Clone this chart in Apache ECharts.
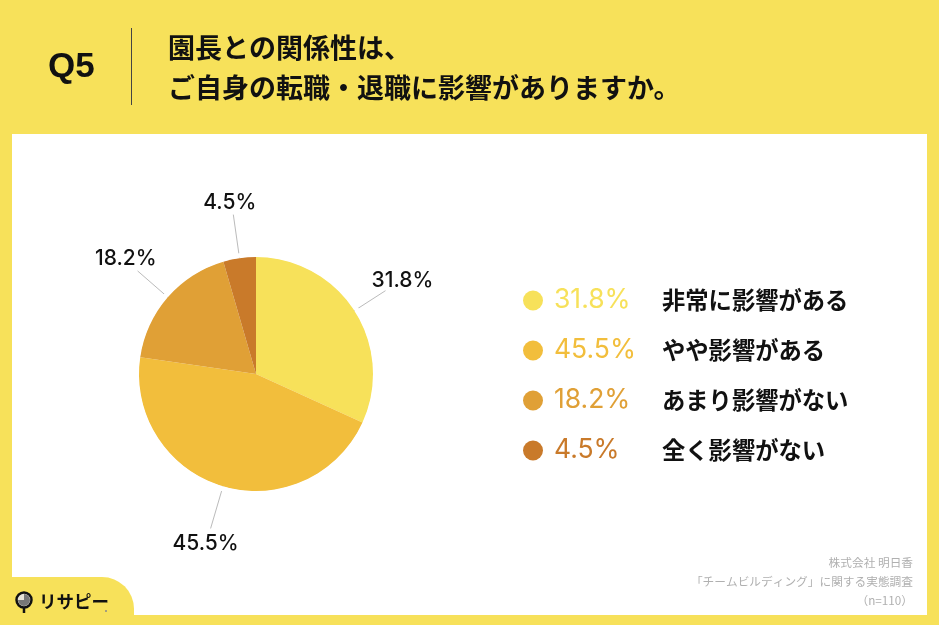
<!DOCTYPE html>
<html>
<head>
<meta charset="utf-8">
<script src="https://cdn.jsdelivr.net/npm/echarts@6/dist/echarts.min.js"></script>
<style>html,body{margin:0;padding:0;background:#f7e15a}</style>
</head>
<body>
<div id="main" style="width:939px;height:625px;"></div>
<script type="text/javascript">
    var categories = ['非常に影響がある', 'やや影響がある', 'あまり影響がない', '全く影響がない'];
    var values = [31.8, 45.5, 18.2, 4.5];
    var colors = ['#f7e15a', '#f2be3c', '#e0a036', '#c97a2a'];
    var titleLines = ['園長との関係性は、', 'ご自身の転職・退職に影響がありますか。'];
    var noteLines = ['株式会社 明日香', '「チームビルディング」に関する実態調査', '（n=110）'];

    var jp = '"Noto Sans CJK JP", sans-serif';
    var latin = '"Liberation Sans", "Noto Sans CJK JP", sans-serif';
    var myChart = echarts.init(document.getElementById('main'));

    // 凡例の文字色は項目ごとに変える
    var legendRich = { n: { fontFamily: jp, fontSize: 23.3, fontWeight: 'bold', color: '#111', lineHeight: 30 } };
    colors.forEach(function (c, i) {
        legendRich['p' + i] = { fontFamily: 'Inter', fontSize: 26.5, fontWeight: 400, color: c, width: 108, padding: [0, 0, 0, 6], lineHeight: 30 };
    });

    // ラベルの位置調整（既定位置からのずらし）と引き出し線の長さ
    var labelShift = [[-19, -10], [33, 15], [24, -12], [28, -12]];
    var lineLength = [37, 44, 40, 44];

    var option = {
        backgroundColor: '#f7e15a',
        animation: false,
        graphic: [
            { type: 'rect', z: -10, shape: { x: 12, y: 134, width: 915, height: 481 }, style: { fill: '#fff' } },
            { type: 'rect', z: -9, shape: { x: 0, y: 577, width: 134, height: 60, r: [0, 32, 0, 0] }, style: { fill: '#f7e15a' } },
            { type: 'text', style: { x: 48, y: 67, text: 'Q5', font: 'bold 35px ' + latin, fill: '#111', verticalAlign: 'middle' } },
            { type: 'line', shape: { x1: 131.5, y1: 28, x2: 131.5, y2: 105 }, style: { stroke: '#444', lineWidth: 1 } },
            { type: 'text', style: { x: 168, y: 48, text: titleLines[0], font: 'bold 27px ' + jp, fill: '#111', verticalAlign: 'middle' } },
            { type: 'text', style: { x: 168, y: 88, text: titleLines[1], font: 'bold 27px ' + jp, fill: '#111', verticalAlign: 'middle' } },
            { type: 'text', style: { x: 913, y: 563, text: noteLines[0], font: '11.7px ' + jp, fill: '#b0b0b0', align: 'right', verticalAlign: 'middle' } },
            { type: 'text', style: { x: 913, y: 582, text: noteLines[1], font: '11.7px ' + jp, fill: '#b0b0b0', align: 'right', verticalAlign: 'middle' } },
            { type: 'text', style: { x: 913, y: 601, text: noteLines[2], font: '11.7px ' + jp, fill: '#b0b0b0', align: 'right', verticalAlign: 'middle' } },
            // 引き出し線と円の間のすき間
            { type: 'ring', z: 100, silent: true, shape: { cx: 256, cy: 374, r: 122, r0: 117.5 }, style: { fill: '#fff' } },
            // ロゴ
            { type: 'circle', shape: { cx: 24, cy: 600, r: 7.5 }, style: { fill: '#e8e4d8', stroke: '#111', lineWidth: 2.5 } },
            { type: 'sector', shape: { cx: 24, cy: 600, r: 6, r0: 0, startAngle: -Math.PI / 2, endAngle: Math.PI }, style: { fill: '#777' } },
            { type: 'line', shape: { x1: 24, y1: 608, x2: 24, y2: 613 }, style: { stroke: '#111', lineWidth: 2.5 } },
            { type: 'text', style: { x: 39, y: 601, text: 'リサピー', font: 'bold 17.5px ' + jp, fill: '#111', verticalAlign: 'middle' } },
            { type: 'circle', shape: { cx: 106, cy: 611, r: 1 }, style: { fill: '#888' } }
        ],
        legend: {
            orient: 'vertical',
            left: 518,
            top: 282,
            icon: 'circle',
            itemWidth: 20,
            itemHeight: 20,
            itemGap: 23,
            selectedMode: false,
            data: categories,
            formatter: function (name) {
                var i = categories.indexOf(name);
                return '{p' + i + '|' + values[i] + '%}{n|' + name + '}';
            },
            textStyle: { rich: legendRich }
        },
        series: [{
            type: 'pie',
            center: [256, 374],
            radius: [0, 117],
            startAngle: 90,
            clockwise: true,
            avoidLabelOverlap: false,
            data: categories.map(function (name, i) {
                return {
                    name: name,
                    value: values[i],
                    itemStyle: { color: colors[i] },
                    labelLine: { length: lineLength[i] }
                };
            }),
            label: {
                show: true,
                formatter: '{c}%',
                fontFamily: 'Inter',
                fontWeight: 500,
                fontSize: 21,
                color: '#111'
            },
            labelLine: {
                show: true,
                length2: 0,
                lineStyle: { color: '#bbb', width: 1 }
            },
            labelLayout: function (params) {
                var s = labelShift[params.dataIndex];
                return { dx: s[0], dy: s[1] };
            }
        }]
    };
    myChart.setOption(option);
</script>
</body>
</html>
